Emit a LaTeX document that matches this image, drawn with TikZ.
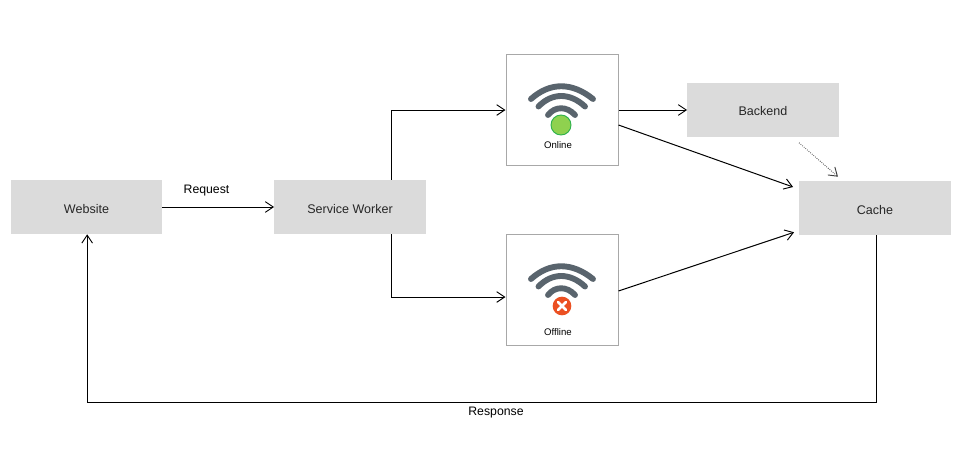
\documentclass[tikz,border=0pt]{standalone}
\usepackage{fontspec}
\setmainfont{Liberation Sans}
\usetikzlibrary{arrows.meta,calc}
\definecolor{boxgray}{HTML}{DBDBDB}
\definecolor{wifigray}{HTML}{59646D}
\definecolor{frameg}{HTML}{A8A8A8}
\definecolor{okgreen}{HTML}{8FD14F}
\definecolor{okedge}{HTML}{2FB24C}
\definecolor{errorange}{HTML}{EB5022}
\tikzset{
 x=0.75pt,y=-0.75pt,
 procbox/.style={fill=boxgray,minimum width=113.5pt,minimum height=40.5pt,inner sep=0pt,text height=9.2pt,text depth=0pt,font=\fontsize{9.4}{11}\selectfont,text=black!85},
 statebox/.style={draw=frameg,line width=0.75pt,fill=white,minimum width=84pt,minimum height=83.5pt,inner sep=0pt},
 flow/.style={draw=black,line width=0.75pt,-{Straight Barb[length=6pt,width=8pt,line width=0.7pt]}},
 weak/.style={draw=black!75,line width=0.6pt,densely dotted,-{Straight Barb[length=6pt,width=8pt,line width=0.7pt]}},
 wave/.style={draw=wifigray,line width=4.4pt,line cap=round},
 lbl/.style={font=\fontsize{9.2}{11}\selectfont,inner sep=0pt},
 smalllbl/.style={font=\fontsize{7.2}{9}\selectfont,inner sep=0pt},
}
\begin{document}
\begin{tikzpicture}
\useasboundingbox (0,0) rectangle (958,461);
\node[procbox] (web) at (86.5,207) {Website};
\node[procbox] (sw) at (350,207) {Service Worker};
\node[procbox] (back) at (763,109.5) {Backend};
\node[procbox] (cache) at (875,208) {Cache};
\node[statebox] (on) at (562,110) {};
\node[statebox] (off) at (562,290) {};
% online icon
\draw[wave] (531,99) .. controls (550,82) and (572,82) .. (593,99);
\draw[wave] (538.5,106.5) .. controls (552,92.5) and (570,92.5) .. (585,106.5);
\draw[wave] (548,115) .. controls (555,106) and (567,106) .. (575,115);
\node[circle,fill=okgreen,draw=okedge,line width=0.7pt,minimum size=15pt,inner sep=0pt] (ondot) at (561,125) {};
\node[smalllbl] (onl) at (558,145) {Online};
% offline icon
\draw[wave] (531,279) .. controls (550,262) and (572,262) .. (593,279);
\draw[wave] (538.5,286.5) .. controls (552,272.5) and (570,272.5) .. (585,286.5);
\draw[wave] (548,295) .. controls (555,286) and (567,286) .. (575,295);
\node[circle,fill=errorange,minimum size=14pt,inner sep=0pt] (offdot) at (562,306) {};
\draw[white,line width=2pt,line cap=round] ($(offdot)+(-4,-4)$) -- ($(offdot)+(4,4)$);
\draw[white,line width=2pt,line cap=round] ($(offdot)+(-4,4)$) -- ($(offdot)+(4,-4)$);
\node[smalllbl] (offl) at (558,332) {Offline};
% labels
\node[lbl] (req) at (206.5,190.5) {Request};
\node[lbl] (resp) at (496,412.5) {Response};
\coordinate (floor) at (480,402.5);
% connectors
\draw[flow] (web.east) -- (sw.west);
\draw[flow] ([xshift=30.75pt]sw.north) |- (on.west);
\draw[flow] ([xshift=30.75pt]sw.south) |- ([yshift=-5.25pt]off.west);
\draw[flow] (on.east) -- (on.east -| back.west);
\draw[flow] ([yshift=-11.25pt]on.east) -- ([xshift=-4.5pt,yshift=15.75pt]cache.west);
\draw[flow] ([yshift=-0.75pt]off.east) -- ([xshift=-3.75pt,yshift=2.25pt]cache.south west);
\draw[weak] ([xshift=27pt,yshift=-4.5pt]back.south) -- ([xshift=-27.75pt,yshift=3pt]cache.north);
\draw[flow] ([xshift=0.75pt]cache.south) -- ([xshift=0.75pt]cache.south |- floor) -- ([xshift=0.5pt]web.south |- floor) -- ([xshift=0.5pt]web.south);
\end{tikzpicture}
\end{document}
